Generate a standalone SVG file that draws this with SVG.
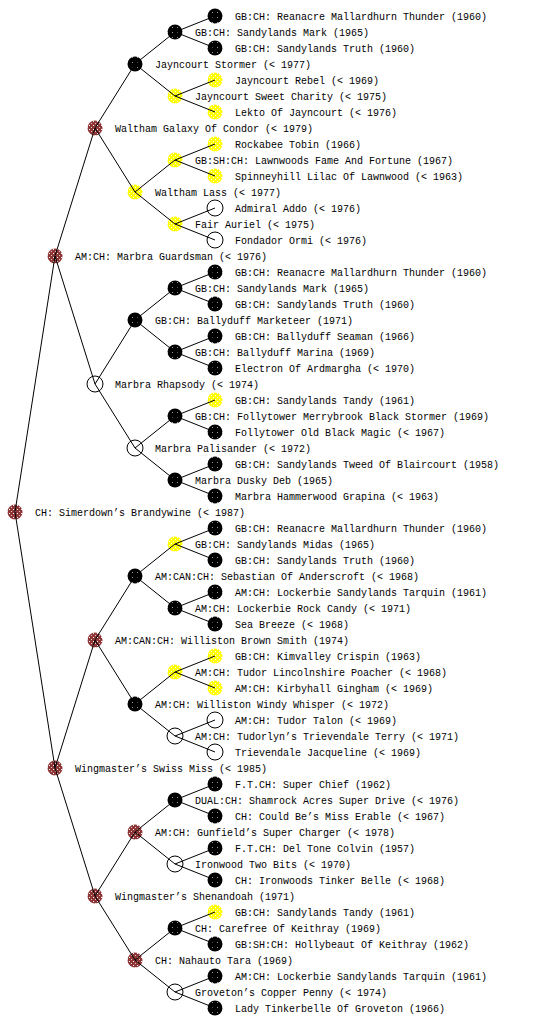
<svg xmlns="http://www.w3.org/2000/svg" width="560" height="1024" viewBox="0 0 560 1024">
<style>
text{font-family:"Liberation Mono","DejaVu Sans Mono",monospace;font-size:10px;fill:#000}
.b{fill:url(#pb)}
.y{fill:url(#py)}
.r{fill:url(#pr)}
.o{fill:none;stroke:#000;stroke-width:1}
#edges line{stroke:#000;stroke-width:1}
</style>
<defs>
<pattern id="pb" width="5" height="5" patternUnits="userSpaceOnUse"><rect width="5" height="5" fill="#000"/><rect x="2" y="2" width="1" height="1" fill="#999"/></pattern>
<pattern id="py" width="4" height="4" patternUnits="userSpaceOnUse"><rect width="4" height="4" fill="#ffff00"/><rect x="1" y="1" width="1" height="1" fill="#fff"/><rect x="3" y="3" width="1" height="1" fill="#fff"/></pattern>
<pattern id="pr" width="4" height="4" patternUnits="userSpaceOnUse"><rect width="4" height="4" fill="#8e3535"/><rect x="1" y="1" width="1" height="1" fill="#fff"/><rect x="3" y="3" width="1" height="1" fill="#e8c8c8"/></pattern>
</defs>
<rect width="560" height="1024" fill="#fff"/>

<g id="nodes">
<g id="g0"><circle class="r" cx="15" cy="512" r="7.5"/><text x="35" y="516">CH: Simerdown’s Brandywine (&lt; 1987)</text></g>

<g id="g1a"><circle class="r" cx="55" cy="256" r="7.5"/><text x="75" y="260">AM:CH: Marbra Guardsman (&lt; 1976)</text></g>
<g id="g1b"><circle class="r" cx="55" cy="768" r="7.5"/><text x="75" y="772">Wingmaster’s Swiss Miss (&lt; 1985)</text></g>

<g id="g2a"><circle class="r" cx="95" cy="128" r="7.5"/><text x="115" y="132">Waltham Galaxy Of Condor (&lt; 1979)</text></g>
<g id="g2b"><circle class="o" cx="95" cy="384" r="8"/><text x="115" y="388">Marbra Rhapsody (&lt; 1974)</text></g>
<g id="g2c"><circle class="r" cx="95" cy="640" r="7.5"/><text x="115" y="644">AM:CAN:CH: Williston Brown Smith (1974)</text></g>
<g id="g2d"><circle class="r" cx="95" cy="896" r="7.5"/><text x="115" y="900">Wingmaster’s Shenandoah (1971)</text></g>

<g id="g3a"><circle class="b" cx="135" cy="64" r="7.5"/><text x="155" y="68">Jayncourt Stormer (&lt; 1977)</text></g>
<g id="g3b"><circle class="y" cx="135" cy="192" r="7.5"/><text x="155" y="196">Waltham Lass (&lt; 1977)</text></g>
<g id="g3c"><circle class="b" cx="135" cy="320" r="7.5"/><text x="155" y="324">GB:CH: Ballyduff Marketeer (1971)</text></g>
<g id="g3d"><circle class="o" cx="135" cy="448" r="8"/><text x="155" y="452">Marbra Palisander (&lt; 1972)</text></g>
<g id="g3e"><circle class="b" cx="135" cy="576" r="7.5"/><text x="155" y="580">AM:CAN:CH: Sebastian Of Anderscroft (&lt; 1968)</text></g>
<g id="g3f"><circle class="b" cx="135" cy="704" r="7.5"/><text x="155" y="708">AM:CH: Williston Windy Whisper (&lt; 1972)</text></g>
<g id="g3g"><circle class="r" cx="135" cy="832" r="7.5"/><text x="155" y="836">AM:CH: Gunfield’s Super Charger (&lt; 1978)</text></g>
<g id="g3h"><circle class="r" cx="135" cy="960" r="7.5"/><text x="155" y="964">CH: Nahauto Tara (1969)</text></g>

<g id="g4a"><circle class="b" cx="175" cy="32" r="7.5"/><text x="195" y="36">GB:CH: Sandylands Mark (1965)</text></g>
<g id="g4b"><circle class="y" cx="175" cy="96" r="7.5"/><text x="195" y="100">Jayncourt Sweet Charity (&lt; 1975)</text></g>
<g id="g4c"><circle class="y" cx="175" cy="160" r="7.5"/><text x="195" y="164">GB:SH:CH: Lawnwoods Fame And Fortune (1967)</text></g>
<g id="g4d"><circle class="y" cx="175" cy="224" r="7.5"/><text x="195" y="228">Fair Auriel (&lt; 1975)</text></g>
<g id="g4e"><circle class="b" cx="175" cy="288" r="7.5"/><text x="195" y="292">GB:CH: Sandylands Mark (1965)</text></g>
<g id="g4f"><circle class="b" cx="175" cy="352" r="7.5"/><text x="195" y="356">GB:CH: Ballyduff Marina (1969)</text></g>
<g id="g4g"><circle class="b" cx="175" cy="416" r="7.5"/><text x="195" y="420">GB:CH: Follytower Merrybrook Black Stormer (1969)</text></g>
<g id="g4h"><circle class="b" cx="175" cy="480" r="7.5"/><text x="195" y="484">Marbra Dusky Deb (1965)</text></g>
<g id="g4i"><circle class="y" cx="175" cy="544" r="7.5"/><text x="195" y="548">GB:CH: Sandylands Midas (1965)</text></g>
<g id="g4j"><circle class="b" cx="175" cy="608" r="7.5"/><text x="195" y="612">AM:CH: Lockerbie Rock Candy (&lt; 1971)</text></g>
<g id="g4k"><circle class="y" cx="175" cy="672" r="7.5"/><text x="195" y="676">AM:CH: Tudor Lincolnshire Poacher (&lt; 1968)</text></g>
<g id="g4l"><circle class="o" cx="175" cy="736" r="8"/><text x="195" y="740">AM:CH: Tudorlyn’s Trievendale Terry (&lt; 1971)</text></g>
<g id="g4m"><circle class="b" cx="175" cy="800" r="7.5"/><text x="195" y="804">DUAL:CH: Shamrock Acres Super Drive (&lt; 1976)</text></g>
<g id="g4n"><circle class="o" cx="175" cy="864" r="8"/><text x="195" y="868">Ironwood Two Bits (&lt; 1970)</text></g>
<g id="g4o"><circle class="b" cx="175" cy="928" r="7.5"/><text x="195" y="932">CH: Carefree Of Keithray (1969)</text></g>
<g id="g4p"><circle class="o" cx="175" cy="992" r="8"/><text x="195" y="996">Groveton’s Copper Penny (&lt; 1974)</text></g>

<g id="g5-01"><circle class="b" cx="215" cy="16" r="7.5"/><text x="235" y="20">GB:CH: Reanacre Mallardhurn Thunder (1960)</text></g>
<g id="g5-02"><circle class="b" cx="215" cy="48" r="7.5"/><text x="235" y="52">GB:CH: Sandylands Truth (1960)</text></g>
<g id="g5-03"><circle class="y" cx="215" cy="80" r="7.5"/><text x="235" y="84">Jayncourt Rebel (&lt; 1969)</text></g>
<g id="g5-04"><circle class="y" cx="215" cy="112" r="7.5"/><text x="235" y="116">Lekto Of Jayncourt (&lt; 1976)</text></g>
<g id="g5-05"><circle class="y" cx="215" cy="144" r="7.5"/><text x="235" y="148">Rockabee Tobin (1966)</text></g>
<g id="g5-06"><circle class="y" cx="215" cy="176" r="7.5"/><text x="235" y="180">Spinneyhill Lilac Of Lawnwood (&lt; 1963)</text></g>
<g id="g5-07"><circle class="o" cx="215" cy="208" r="8"/><text x="235" y="212">Admiral Addo (&lt; 1976)</text></g>
<g id="g5-08"><circle class="o" cx="215" cy="240" r="8"/><text x="235" y="244">Fondador Ormi (&lt; 1976)</text></g>
<g id="g5-09"><circle class="b" cx="215" cy="272" r="7.5"/><text x="235" y="276">GB:CH: Reanacre Mallardhurn Thunder (1960)</text></g>
<g id="g5-10"><circle class="b" cx="215" cy="304" r="7.5"/><text x="235" y="308">GB:CH: Sandylands Truth (1960)</text></g>
<g id="g5-11"><circle class="b" cx="215" cy="336" r="7.5"/><text x="235" y="340">GB:CH: Ballyduff Seaman (1966)</text></g>
<g id="g5-12"><circle class="b" cx="215" cy="368" r="7.5"/><text x="235" y="372">Electron Of Ardmargha (&lt; 1970)</text></g>
<g id="g5-13"><circle class="y" cx="215" cy="400" r="7.5"/><text x="235" y="404">GB:CH: Sandylands Tandy (1961)</text></g>
<g id="g5-14"><circle class="b" cx="215" cy="432" r="7.5"/><text x="235" y="436">Follytower Old Black Magic (&lt; 1967)</text></g>
<g id="g5-15"><circle class="b" cx="215" cy="464" r="7.5"/><text x="235" y="468">GB:CH: Sandylands Tweed Of Blaircourt (1958)</text></g>
<g id="g5-16"><circle class="b" cx="215" cy="496" r="7.5"/><text x="235" y="500">Marbra Hammerwood Grapina (&lt; 1963)</text></g>
<g id="g5-17"><circle class="b" cx="215" cy="528" r="7.5"/><text x="235" y="532">GB:CH: Reanacre Mallardhurn Thunder (1960)</text></g>
<g id="g5-18"><circle class="b" cx="215" cy="560" r="7.5"/><text x="235" y="564">GB:CH: Sandylands Truth (1960)</text></g>
<g id="g5-19"><circle class="b" cx="215" cy="592" r="7.5"/><text x="235" y="596">AM:CH: Lockerbie Sandylands Tarquin (1961)</text></g>
<g id="g5-20"><circle class="b" cx="215" cy="624" r="7.5"/><text x="235" y="628">Sea Breeze (&lt; 1968)</text></g>
<g id="g5-21"><circle class="y" cx="215" cy="656" r="7.5"/><text x="235" y="660">GB:CH: Kimvalley Crispin (1963)</text></g>
<g id="g5-22"><circle class="y" cx="215" cy="688" r="7.5"/><text x="235" y="692">AM:CH: Kirbyhall Gingham (&lt; 1969)</text></g>
<g id="g5-23"><circle class="o" cx="215" cy="720" r="8"/><text x="235" y="724">AM:CH: Tudor Talon (&lt; 1969)</text></g>
<g id="g5-24"><circle class="o" cx="215" cy="752" r="8"/><text x="235" y="756">Trievendale Jacqueline (&lt; 1969)</text></g>
<g id="g5-25"><circle class="b" cx="215" cy="784" r="7.5"/><text x="235" y="788">F.T.CH: Super Chief (1962)</text></g>
<g id="g5-26"><circle class="b" cx="215" cy="816" r="7.5"/><text x="235" y="820">CH: Could Be’s Miss Erable (&lt; 1967)</text></g>
<g id="g5-27"><circle class="b" cx="215" cy="848" r="7.5"/><text x="235" y="852">F.T.CH: Del Tone Colvin (1957)</text></g>
<g id="g5-28"><circle class="b" cx="215" cy="880" r="7.5"/><text x="235" y="884">CH: Ironwoods Tinker Belle (&lt; 1968)</text></g>
<g id="g5-29"><circle class="y" cx="215" cy="912" r="7.5"/><text x="235" y="916">GB:CH: Sandylands Tandy (1961)</text></g>
<g id="g5-30"><circle class="b" cx="215" cy="944" r="7.5"/><text x="235" y="948">GB:SH:CH: Hollybeaut Of Keithray (1962)</text></g>
<g id="g5-31"><circle class="b" cx="215" cy="976" r="7.5"/><text x="235" y="980">AM:CH: Lockerbie Sandylands Tarquin (1961)</text></g>
<g id="g5-32"><circle class="b" cx="215" cy="1008" r="7.5"/><text x="235" y="1012">Lady Tinkerbelle Of Groveton (1966)</text></g>
</g>

<g id="edges">
<line x1="15" y1="512" x2="55" y2="256"/><line x1="15" y1="512" x2="55" y2="768"/>
<line x1="55" y1="256" x2="95" y2="128"/><line x1="55" y1="256" x2="95" y2="384"/>
<line x1="55" y1="768" x2="95" y2="640"/><line x1="55" y1="768" x2="95" y2="896"/>
<line x1="95" y1="128" x2="135" y2="64"/><line x1="95" y1="128" x2="135" y2="192"/>
<line x1="95" y1="384" x2="135" y2="320"/><line x1="95" y1="384" x2="135" y2="448"/>
<line x1="95" y1="640" x2="135" y2="576"/><line x1="95" y1="640" x2="135" y2="704"/>
<line x1="95" y1="896" x2="135" y2="832"/><line x1="95" y1="896" x2="135" y2="960"/>
<line x1="135" y1="64" x2="175" y2="32"/><line x1="135" y1="64" x2="175" y2="96"/>
<line x1="135" y1="192" x2="175" y2="160"/><line x1="135" y1="192" x2="175" y2="224"/>
<line x1="135" y1="320" x2="175" y2="288"/><line x1="135" y1="320" x2="175" y2="352"/>
<line x1="135" y1="448" x2="175" y2="416"/><line x1="135" y1="448" x2="175" y2="480"/>
<line x1="135" y1="576" x2="175" y2="544"/><line x1="135" y1="576" x2="175" y2="608"/>
<line x1="135" y1="704" x2="175" y2="672"/><line x1="135" y1="704" x2="175" y2="736"/>
<line x1="135" y1="832" x2="175" y2="800"/><line x1="135" y1="832" x2="175" y2="864"/>
<line x1="135" y1="960" x2="175" y2="928"/><line x1="135" y1="960" x2="175" y2="992"/>
<line x1="175" y1="32" x2="215" y2="16"/><line x1="175" y1="32" x2="215" y2="48"/>
<line x1="175" y1="96" x2="215" y2="80"/><line x1="175" y1="96" x2="215" y2="112"/>
<line x1="175" y1="160" x2="215" y2="144"/><line x1="175" y1="160" x2="215" y2="176"/>
<line x1="175" y1="224" x2="215" y2="208"/><line x1="175" y1="224" x2="215" y2="240"/>
<line x1="175" y1="288" x2="215" y2="272"/><line x1="175" y1="288" x2="215" y2="304"/>
<line x1="175" y1="352" x2="215" y2="336"/><line x1="175" y1="352" x2="215" y2="368"/>
<line x1="175" y1="416" x2="215" y2="400"/><line x1="175" y1="416" x2="215" y2="432"/>
<line x1="175" y1="480" x2="215" y2="464"/><line x1="175" y1="480" x2="215" y2="496"/>
<line x1="175" y1="544" x2="215" y2="528"/><line x1="175" y1="544" x2="215" y2="560"/>
<line x1="175" y1="608" x2="215" y2="592"/><line x1="175" y1="608" x2="215" y2="624"/>
<line x1="175" y1="672" x2="215" y2="656"/><line x1="175" y1="672" x2="215" y2="688"/>
<line x1="175" y1="736" x2="215" y2="720"/><line x1="175" y1="736" x2="215" y2="752"/>
<line x1="175" y1="800" x2="215" y2="784"/><line x1="175" y1="800" x2="215" y2="816"/>
<line x1="175" y1="864" x2="215" y2="848"/><line x1="175" y1="864" x2="215" y2="880"/>
<line x1="175" y1="928" x2="215" y2="912"/><line x1="175" y1="928" x2="215" y2="944"/>
<line x1="175" y1="992" x2="215" y2="976"/><line x1="175" y1="992" x2="215" y2="1008"/>
</g>
</svg>
